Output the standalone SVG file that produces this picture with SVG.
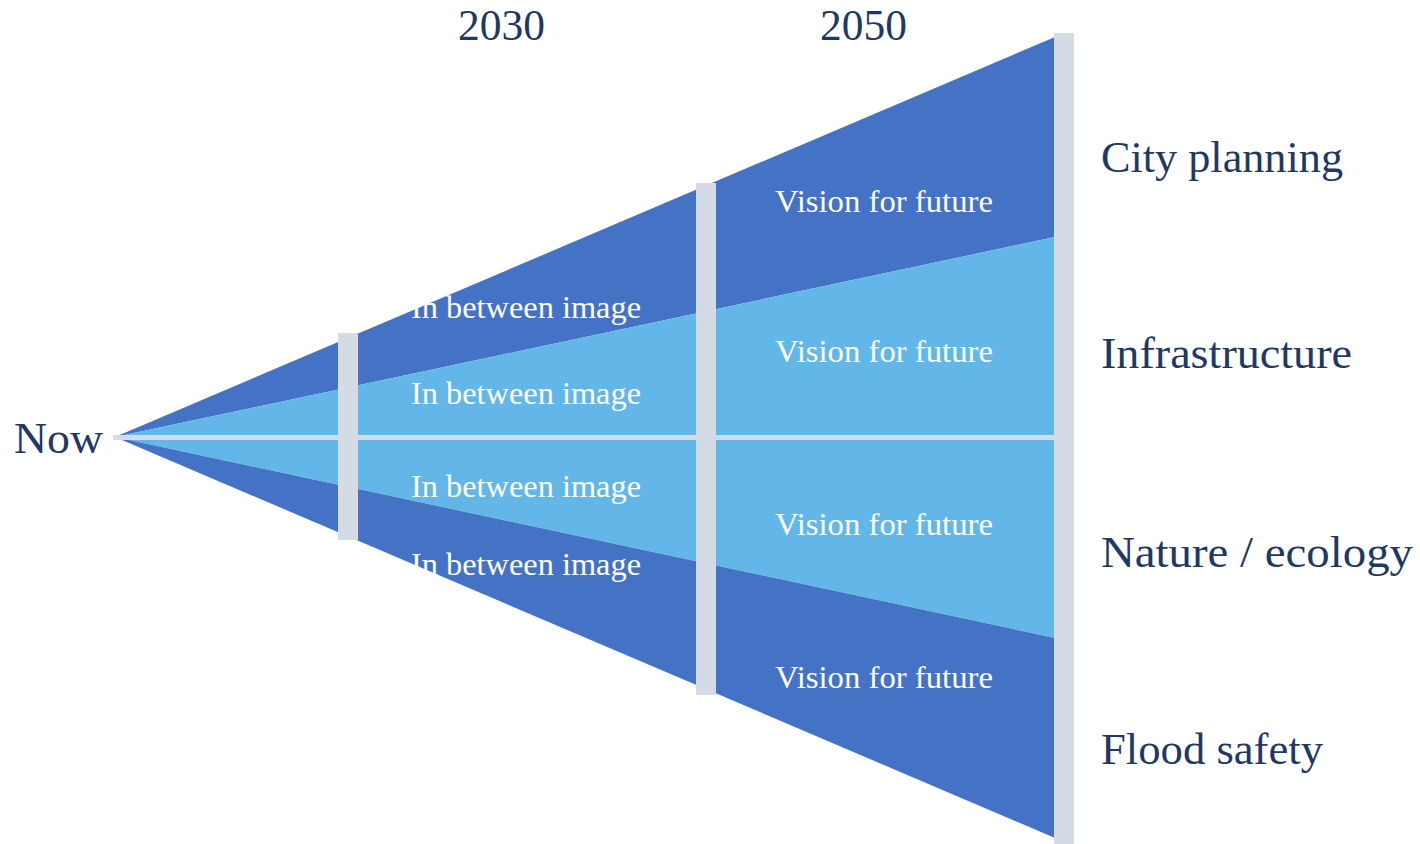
<svg xmlns="http://www.w3.org/2000/svg" width="1420" height="844" viewBox="0 0 1420 844">
<style>
.dark{fill:#4472C4}
.light{fill:#62B7E8}
.bar{fill:#D5DBE5}
.lab{font-family:"Liberation Serif",serif;fill:#1F3864;font-size:44px}
.in{font-family:"Liberation Serif",serif;fill:#FFFFFF;font-size:32.5px}
</style>
<rect width="1420" height="844" fill="#FFFFFF"/>
<g id="funnel">
<polygon class="dark" points="115,437 1055,37 1055,237"/>
<polygon class="light" points="115,437 1055,237 1055,638"/>
<polygon class="dark" points="115,437 1055,638 1055,838"/>
</g>
<g id="connectors">
<rect class="bar" x="113" y="435" width="942" height="5"/>
<rect class="bar" x="338" y="333" width="20" height="207"/>
<rect class="bar" x="696" y="183" width="20" height="512"/>
<rect class="bar" x="1054" y="33" width="20" height="811"/>
</g>
<g id="labels">
<text class="lab" x="14" y="453" textLength="89" lengthAdjust="spacingAndGlyphs">Now</text>
<text class="lab" x="458" y="40" textLength="87" lengthAdjust="spacingAndGlyphs">2030</text>
<text class="lab" x="820" y="40" textLength="87" lengthAdjust="spacingAndGlyphs">2050</text>
<text class="lab" x="1101" y="172" textLength="242" lengthAdjust="spacingAndGlyphs">City planning</text>
<text class="lab" x="1101" y="368" textLength="251" lengthAdjust="spacingAndGlyphs">Infrastructure</text>
<text class="lab" x="1101" y="567" textLength="312" lengthAdjust="spacingAndGlyphs">Nature / ecology</text>
<text class="lab" x="1101" y="764" textLength="222" lengthAdjust="spacingAndGlyphs">Flood safety</text>
</g>
<g id="inbetween">
<text class="in" x="411" y="318" textLength="230" lengthAdjust="spacingAndGlyphs">In between image</text>
<text class="in" x="411" y="404" textLength="230" lengthAdjust="spacingAndGlyphs">In between image</text>
<text class="in" x="411" y="497" textLength="230" lengthAdjust="spacingAndGlyphs">In between image</text>
<text class="in" x="411" y="575" textLength="230" lengthAdjust="spacingAndGlyphs">In between image</text>
</g>
<g id="vision">
<text class="in" x="775" y="212" textLength="218" lengthAdjust="spacingAndGlyphs">Vision for future</text>
<text class="in" x="775" y="362" textLength="218" lengthAdjust="spacingAndGlyphs">Vision for future</text>
<text class="in" x="775" y="535" textLength="218" lengthAdjust="spacingAndGlyphs">Vision for future</text>
<text class="in" x="775" y="688" textLength="218" lengthAdjust="spacingAndGlyphs">Vision for future</text>
</g>
</svg>
